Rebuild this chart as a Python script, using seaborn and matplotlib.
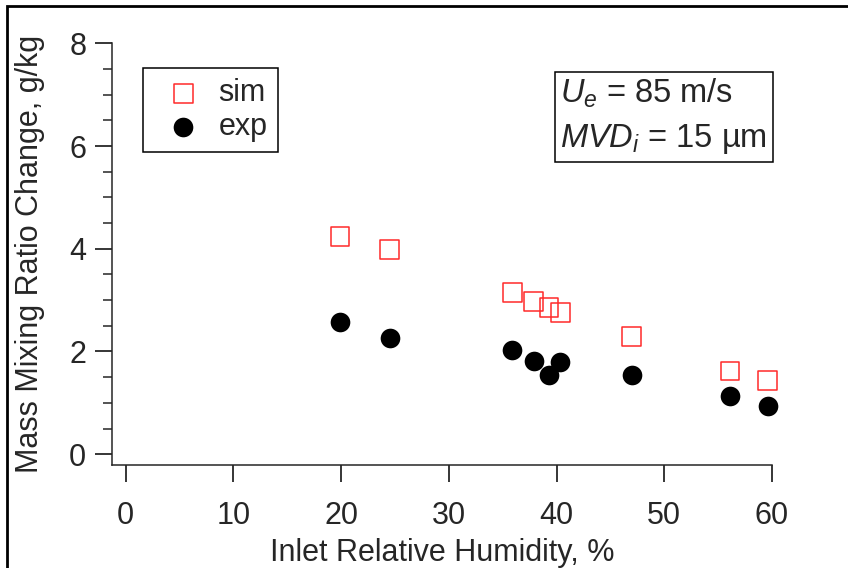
import matplotlib
matplotlib.use("Agg")
import numpy as np
import seaborn as sns
from matplotlib import pyplot as plt
from matplotlib.patches import Rectangle

# data
rh_sim = [19.9, 24.5, 35.9, 37.9, 39.3, 40.35, 46.96, 56.1, 59.6]
sim = [4.24, 3.99, 3.15, 2.97, 2.86, 2.76, 2.30, 1.62, 1.43]
rh_exp = [19.9, 24.5, 35.9, 37.9, 39.3, 40.35, 46.96, 56.1, 59.6]
exp = [2.58, 2.26, 2.02, 1.82, 1.54, 1.79, 1.54, 1.14, 0.93]

x_ticks = [0, 10, 20, 30, 40, 50, 60]
y_ticks = [0, 2, 4, 6, 8]

sns.set_style("ticks")
plt.rcParams["font.family"] = ["Liberation Sans", "DejaVu Sans"]
plt.rcParams["mathtext.fontset"] = "custom"
plt.rcParams["mathtext.rm"] = "Liberation Sans"
plt.rcParams["mathtext.it"] = "Liberation Sans:italic"

fs = 22
fig = plt.figure(figsize=(8.48, 5.68), dpi=100)
ax = fig.add_axes([112 / 848, 1 - 464.5 / 568, 660 / 848, 421.2 / 568])

red = "#ff2a2a"
sns.scatterplot(x=rh_sim, y=sim, ax=ax, marker="s", s=185, color=red,
                facecolor="none", edgecolor=red, linewidth=1.1, label="sim",
                clip_on=False, zorder=3)
sns.scatterplot(x=rh_exp, y=exp, ax=ax, marker="o", s=200, color="black",
                edgecolor="black", linewidth=0, label="exp",
                clip_on=False, zorder=3)

ax.set_xlim(-1.27, 60)
ax.set_ylim(-0.2, 8)
ax.set_xticks(x_ticks)
ax.set_yticks(y_ticks)
ax.set_yticks(np.arange(0, 8.01, 0.5), minor=True)
sns.despine(ax=ax)
for s in ["left", "bottom"]:
    ax.spines[s].set_linewidth(1.1)
ax.tick_params(axis="both", which="major", length=12, width=1.1, labelsize=fs, color="black")
ax.tick_params(axis="y", which="minor", length=6.5, width=1.1)
ax.tick_params(axis="x", pad=14)
ax.tick_params(axis="y", pad=6.5)

ax.set_xlabel("Inlet Relative Humidity, %", fontsize=fs)
ax.set_ylabel("Mass Mixing Ratio Change, g/kg", fontsize=fs)
ax.xaxis.set_label_coords(0.5, -0.174)
ax.yaxis.set_label_coords(-0.1015, 0.5)

leg = ax.legend(loc="upper left", bbox_to_anchor=(0.0465, 0.941), borderaxespad=0,
                fontsize=fs, frameon=True, fancybox=False, framealpha=1,
                edgecolor="black", handletextpad=0.15, labelspacing=0.12,
                borderpad=0.33, handlelength=2.0)
leg.get_frame().set_linewidth(1.1)

ax.text(0.6795, 0.922, "$U_e$ = 85 m/s\n$MVD_i$ = 15 µm", transform=ax.transAxes,
        fontsize=23.5, va="top", ha="left", linespacing=1.5, clip_on=False,
        bbox=dict(boxstyle="square,pad=0.17", fc="white", ec="black", lw=1.1))

fig.patches.append(Rectangle((7 / 848, -0.1), 1.2, 1.1 - 6 / 568, transform=fig.transFigure,
                             fill=False, ec="black", lw=2, clip_on=False))

fig.savefig("out.png", dpi=100)
